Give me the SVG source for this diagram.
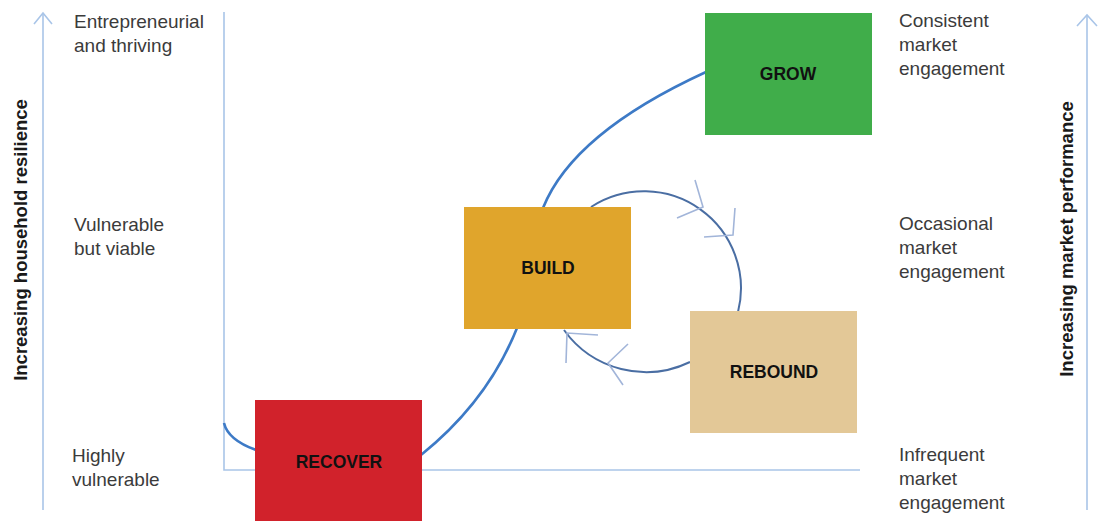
<svg xmlns="http://www.w3.org/2000/svg" width="1098" height="521" viewBox="0 0 1098 521">
  <style>
    .axis { fill: none; stroke: #a9c5e8; stroke-width: 1.6; }
    .path { fill: none; stroke: #3d7ac6; stroke-width: 2.6; }
    .loop { fill: none; stroke: #4a6ea3; stroke-width: 2; }
    .chev { fill: none; stroke: #a2b5d9; stroke-width: 1.6; }
    .lbl { font-family: "Liberation Sans", Arial, sans-serif; font-size: 19px; fill: #3b3b3b; }
    .ax { font-family: "Liberation Sans", Arial, sans-serif; font-size: 18.5px; font-weight: bold; fill: #1a1a1a; text-anchor: middle; }
    .stage { font-family: "Liberation Sans", Arial, sans-serif; font-size: 17.5px; font-weight: bold; fill: #111; text-anchor: middle; }
  </style>

  <rect width="1098" height="521" fill="#ffffff"/>

  <!-- axes -->
  <g id="axes">
    <line class="axis" x1="43" y1="14" x2="43" y2="510"/>
    <polyline class="axis" points="34,24 43,13 52,24"/>
    <line class="axis" x1="1087" y1="16" x2="1087" y2="510"/>
    <polyline class="axis" points="1077,26 1087,15 1097,26"/>
    <polyline class="axis" points="224,12 224,470 860,470"/>
    <text class="ax" transform="translate(27,240) rotate(-90)">Increasing household resilience</text>
    <text class="ax" transform="translate(1073,239) rotate(-90)">Increasing market performance</text>
  </g>

  <!-- level labels -->
  <g id="labels-left">
    <text class="lbl" x="74" y="28">Entrepreneurial</text>
    <text class="lbl" x="74" y="52">and thriving</text>
    <text class="lbl" x="74" y="231">Vulnerable</text>
    <text class="lbl" x="74" y="255">but viable</text>
    <text class="lbl" x="72" y="462">Highly</text>
    <text class="lbl" x="72" y="486">vulnerable</text>
  </g>
  <g id="labels-right">
    <text class="lbl" x="899" y="27">Consistent</text>
    <text class="lbl" x="899" y="51">market</text>
    <text class="lbl" x="899" y="75">engagement</text>
    <text class="lbl" x="899" y="230">Occasional</text>
    <text class="lbl" x="899" y="254">market</text>
    <text class="lbl" x="899" y="278">engagement</text>
    <text class="lbl" x="899" y="461">Infrequent</text>
    <text class="lbl" x="899" y="485">market</text>
    <text class="lbl" x="899" y="509">engagement</text>
  </g>

  <!-- connectors -->
  <g id="connectors">
    <path class="path" d="M224,423 Q228,440 256,450"/>
    <path class="path" d="M421,455 Q488,401 517,328"/>
    <path class="path" d="M543,208 Q573,133 706,72"/>
    <path class="loop" d="M591,207 A97,97 0 0 1 738,312"/>
    <path class="loop" d="M690,362 A101,101 0 0 1 564,330"/>
    <polyline class="chev" points="695,180 703,207 677,218"/>
    <polyline class="chev" points="735,208 733,235 704,237"/>
    <polyline class="chev" points="628,344 608,363 623,385"/>
    <polyline class="chev" points="598,335 567,333 566,363"/>
  </g>

  <!-- stages -->
  <g id="grow">
    <rect x="705" y="13" width="167" height="122" fill="#40ad4a"/>
    <text class="stage" x="788" y="80">GROW</text>
  </g>
  <g id="build">
    <rect x="464" y="207" width="167" height="122" fill="#e0a52c"/>
    <text class="stage" x="548" y="274">BUILD</text>
  </g>
  <g id="rebound">
    <rect x="690" y="311" width="167" height="122" fill="#e3c897"/>
    <text class="stage" x="774" y="378">REBOUND</text>
  </g>
  <g id="recover">
    <rect x="255" y="400" width="167" height="121" fill="#d1222b"/>
    <text class="stage" x="339" y="468">RECOVER</text>
  </g>
</svg>
